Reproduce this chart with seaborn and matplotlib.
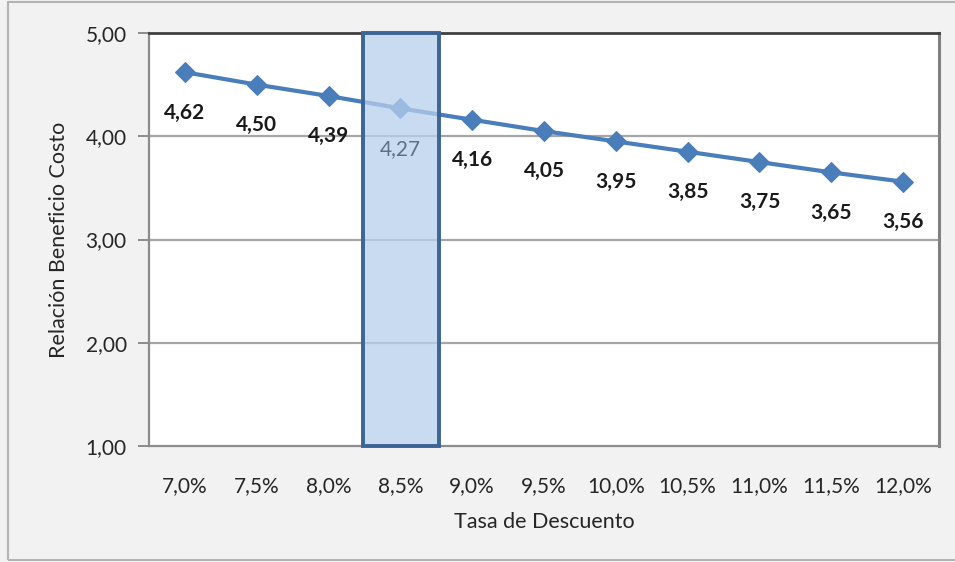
import matplotlib
matplotlib.use("Agg")
import matplotlib.pyplot as plt
import seaborn as sns
import pandas as pd
from matplotlib.patches import Rectangle

tasas = ["7,0%", "7,5%", "8,0%", "8,5%", "9,0%", "9,5%", "10,0%", "10,5%", "11,0%", "11,5%", "12,0%"]
relacion_bc = [4.62, 4.50, 4.39, 4.27, 4.16, 4.05, 3.95, 3.85, 3.75, 3.65, 3.56]
tasa_destacada = "8,5%"
y_ticks = [1.0, 2.0, 3.0, 4.0, 5.0]

sns.set_theme(style="white")
plt.rcParams["font.family"] = ["Lato", "DejaVu Sans"]

df = pd.DataFrame({"Tasa": tasas, "RBC": relacion_bc})

fig = plt.figure(figsize=(9.55, 5.62), dpi=100, facecolor="#f2f2f2")
ax = fig.add_axes([149 / 955, 1 - 446 / 562, 790 / 955, 413 / 562])
ax.set_facecolor("white")

# outer chart frame
fig.patches.append(Rectangle((8 / 955, 2 / 562), 1.0, 1 - 4 / 562, transform=fig.transFigure,
                             fill=False, edgecolor="#b4b4b4", linewidth=1.5, zorder=0))

sns.lineplot(data=df, x="Tasa", y="RBC", sort=False, ax=ax, color="#4a7ebb",
             linewidth=3.0, marker="D", markersize=10.5, markeredgecolor="#4a7ebb", zorder=3)

ax.set_xlim(-0.5, len(tasas) - 0.5)
ax.set_ylim(1, 5)
ax.set_yticks(y_ticks)
ax.set_yticklabels([f"{v:.2f}".replace(".", ",") for v in y_ticks])

for y in y_ticks[1:-1]:
    ax.axhline(y, color="#a6a6a6", linewidth=1.6, zorder=1)

# highlighted discount rate
i_dest = tasas.index(tasa_destacada)
ax.add_patch(Rectangle((i_dest - 0.52, 1.0), 1.06, 4.0, facecolor=(0.72, 0.81, 0.93, 0.75),
                       edgecolor="#3b6597", linewidth=2.8, zorder=4, clip_on=False))

for i, (t, v) in enumerate(zip(tasas, relacion_bc)):
    color = "#5f6f86" if t == tasa_destacada else "#1a1a1a"
    weight = "normal" if t == tasa_destacada else "bold"
    ax.annotate(f"{v:.2f}".replace(".", ","), (i, v), xytext=(0, -29), textcoords="offset points",
                ha="center", va="center", fontsize=15, fontweight=weight, color=color, zorder=5)

for side in ["left", "bottom"]:
    ax.spines[side].set_color("#8c8c8c")
    ax.spines[side].set_linewidth(1.6)
ax.spines["top"].set_color("#404040")
ax.spines["top"].set_linewidth(2.0)
ax.spines["right"].set_color("#808080")
ax.spines["right"].set_linewidth(2.2)

ax.tick_params(axis="y", which="both", left=True, length=8, width=1.4, color="#8c8c8c",
               labelsize=15, labelcolor="#262626", pad=8)
ax.tick_params(axis="x", bottom=False, labelsize=15, labelcolor="#262626", pad=16)

ax.set_xlabel("Tasa de Descuento", fontsize=15.5, color="#262626", labelpad=11)
ax.set_ylabel("Relación Beneficio Costo", fontsize=15.5, color="#262626", labelpad=12)

fig.savefig("out.png", dpi=100, facecolor=fig.get_facecolor())
